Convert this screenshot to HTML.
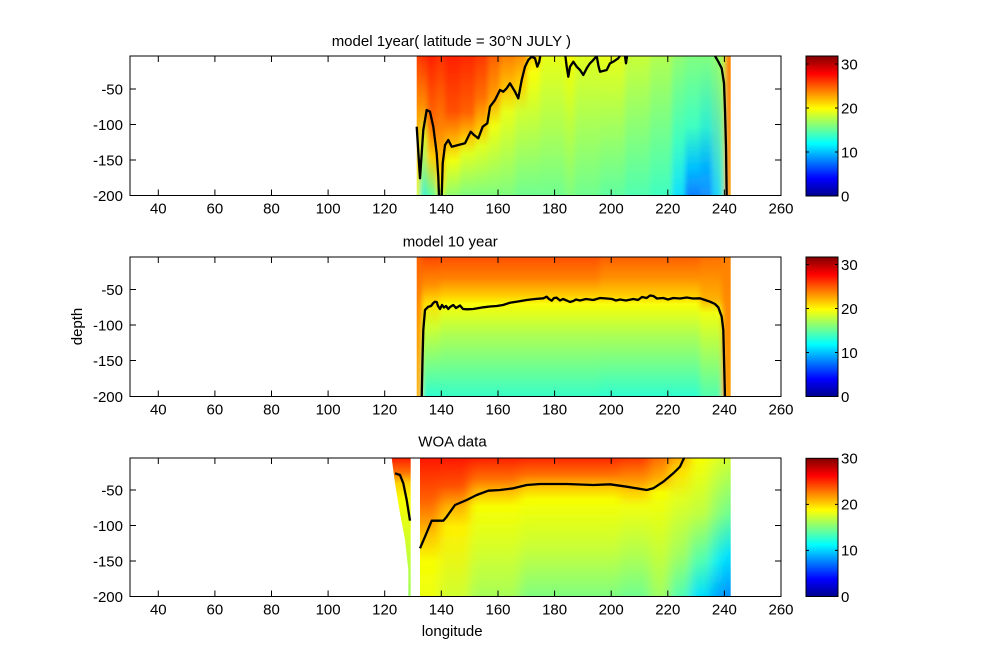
<!DOCTYPE html>
<html><head><meta charset="utf-8"><style>
html,body{margin:0;padding:0;background:#fff;}
svg{display:block;}
text{font-family:"Liberation Sans",Arial,sans-serif;font-size:15px;fill:#000;}
</style></head><body>
<svg width="1001" height="670" viewBox="0 0 1001 670" xmlns="http://www.w3.org/2000/svg">
<defs>
<filter id="bx" x="-0.1" y="-0.1" width="1.2" height="1.2"><feGaussianBlur stdDeviation="2.5 0"/></filter>
<filter id="bx2" x="-0.1" y="-0.1" width="1.2" height="1.2"><feGaussianBlur stdDeviation="5 0"/></filter>
<clipPath id="c1"><rect x="416.7" y="56" width="314" height="139.5"/></clipPath>
<clipPath id="c2"><rect x="416.7" y="257" width="314" height="139.5"/></clipPath>
<clipPath id="c3"><rect x="420" y="458" width="310.7" height="138.5"/></clipPath>
<clipPath id="a1c"><rect x="130" y="56" width="651" height="139.5"/></clipPath>
<clipPath id="a2c"><rect x="130" y="257" width="651" height="139.5"/></clipPath>
<clipPath id="a3c"><rect x="130" y="458" width="651" height="138.5"/></clipPath>
<linearGradient id="jet" x1="0" y1="1" x2="0" y2="0">
<stop offset="0" stop-color="#00008F"/><stop offset="0.125" stop-color="#0000FF"/><stop offset="0.375" stop-color="#00FFFF"/><stop offset="0.625" stop-color="#FFFF00"/><stop offset="0.875" stop-color="#FF0000"/><stop offset="1" stop-color="#800000"/>
</linearGradient>
<linearGradient id="t1" x1="0" y1="0" x2="0" y2="1"><stop offset="0" stop-color="#FF4000"/><stop offset=".4" stop-color="#FF9800"/><stop offset=".8" stop-color="#FFE000"/><stop offset="1" stop-color="#E0FF20"/></linearGradient>
<linearGradient id="t2" x1="0" y1="0" x2="0" y2="1"><stop offset="0" stop-color="#FF3000"/><stop offset=".35" stop-color="#FF9000"/><stop offset=".6" stop-color="#D0FF30"/><stop offset="1" stop-color="#40F0D0"/></linearGradient>
<linearGradient id="t3" x1="0" y1="0" x2="0" y2="1"><stop offset="0" stop-color="#FF2000"/><stop offset=".5" stop-color="#FF7000"/><stop offset=".72" stop-color="#FFD000"/><stop offset="1" stop-color="#60FFA0"/></linearGradient>
<linearGradient id="t4" x1="0" y1="0" x2="0" y2="1"><stop offset="0" stop-color="#FF3000"/><stop offset=".5" stop-color="#FF8000"/><stop offset=".9" stop-color="#FFE000"/><stop offset="1" stop-color="#C0FF40"/></linearGradient>
<linearGradient id="t5" x1="0" y1="0" x2="0" y2="1"><stop offset="0" stop-color="#FF2000"/><stop offset=".4" stop-color="#FF5000"/><stop offset=".63" stop-color="#FFC000"/><stop offset=".75" stop-color="#F0FF10"/><stop offset="1" stop-color="#90FF70"/></linearGradient>
<linearGradient id="t6" x1="0" y1="0" x2="0" y2="1"><stop offset="0" stop-color="#FF2800"/><stop offset=".4" stop-color="#FF6000"/><stop offset=".57" stop-color="#FFC000"/><stop offset=".7" stop-color="#E0FF20"/><stop offset="1" stop-color="#80FF80"/></linearGradient>
<linearGradient id="t7" x1="0" y1="0" x2="0" y2="1"><stop offset="0" stop-color="#FF3800"/><stop offset=".3" stop-color="#FF7000"/><stop offset=".5" stop-color="#FFC000"/><stop offset=".65" stop-color="#E0FF20"/><stop offset="1" stop-color="#80FF80"/></linearGradient>
<linearGradient id="t8" x1="0" y1="0" x2="0" y2="1"><stop offset="0" stop-color="#FF6000"/><stop offset=".3" stop-color="#FFA000"/><stop offset=".5" stop-color="#F0FF10"/><stop offset="1" stop-color="#80FF80"/></linearGradient>
<linearGradient id="t9" x1="0" y1="0" x2="0" y2="1"><stop offset="0" stop-color="#FF8000"/><stop offset=".22" stop-color="#FFC000"/><stop offset=".4" stop-color="#E8FF18"/><stop offset="1" stop-color="#80FF80"/></linearGradient>
<linearGradient id="t10" x1="0" y1="0" x2="0" y2="1"><stop offset="0" stop-color="#FF9000"/><stop offset=".2" stop-color="#FFD000"/><stop offset=".4" stop-color="#D0FF30"/><stop offset="1" stop-color="#70FF90"/></linearGradient>
<linearGradient id="t11" x1="0" y1="0" x2="0" y2="1"><stop offset="0" stop-color="#FFD000"/><stop offset=".12" stop-color="#F8FF08"/><stop offset="1" stop-color="#70FF90"/></linearGradient>
<linearGradient id="t12" x1="0" y1="0" x2="0" y2="1"><stop offset="0" stop-color="#E8FF18"/><stop offset=".5" stop-color="#B0FF50"/><stop offset="1" stop-color="#70FF90"/></linearGradient>
<linearGradient id="t13" x1="0" y1="0" x2="0" y2="1"><stop offset="0" stop-color="#F8FF00"/><stop offset="1" stop-color="#80FF80"/></linearGradient>
<linearGradient id="t14" x1="0" y1="0" x2="0" y2="1"><stop offset="0" stop-color="#E0FF20"/><stop offset="1" stop-color="#70FF90"/></linearGradient>
<linearGradient id="t15" x1="0" y1="0" x2="0" y2="1"><stop offset="0" stop-color="#E8FF18"/><stop offset="1" stop-color="#60FFA0"/></linearGradient>
<linearGradient id="t16" x1="0" y1="0" x2="0" y2="1"><stop offset="0" stop-color="#C8FF38"/><stop offset="1" stop-color="#50FFB0"/></linearGradient>
<linearGradient id="t17" x1="0" y1="0" x2="0" y2="1"><stop offset="0" stop-color="#B0FF50"/><stop offset="1" stop-color="#40FFC0"/></linearGradient>
<linearGradient id="t18" x1="0" y1="0" x2="0" y2="1"><stop offset="0" stop-color="#90FF70"/><stop offset=".6" stop-color="#40FFC0"/><stop offset="1" stop-color="#10E0FF"/></linearGradient>
<linearGradient id="t19" x1="0" y1="0" x2="0" y2="1"><stop offset="0" stop-color="#80FF80"/><stop offset=".5" stop-color="#40FFC0"/><stop offset=".8" stop-color="#00C0FF"/><stop offset="1" stop-color="#1080FF"/></linearGradient>
<linearGradient id="t20" x1="0" y1="0" x2="0" y2="1"><stop offset="0" stop-color="#80FF80"/><stop offset=".5" stop-color="#30F0D0"/><stop offset=".8" stop-color="#00B0FF"/><stop offset="1" stop-color="#1890FF"/></linearGradient>
<linearGradient id="t21" x1="0" y1="0" x2="0" y2="1"><stop offset="0" stop-color="#90FF70"/><stop offset="1" stop-color="#20D0FF"/></linearGradient>
<linearGradient id="t22" x1="0" y1="0" x2="0" y2="1"><stop offset="0" stop-color="#B0FF50"/><stop offset="1" stop-color="#40F0D0"/></linearGradient>
<linearGradient id="t23" x1="0" y1="0" x2="0" y2="1"><stop offset="0" stop-color="#FF8000"/><stop offset="1" stop-color="#FFA000"/></linearGradient>
<linearGradient id="m1" x1="0" y1="0" x2="0" y2="1"><stop offset="0" stop-color="#FF6000"/><stop offset=".5" stop-color="#FF9800"/><stop offset="1" stop-color="#FFB800"/></linearGradient>
<linearGradient id="m2" x1="0" y1="0" x2="0" y2="1"><stop offset="0" stop-color="#FF4800"/><stop offset=".2" stop-color="#FF9000"/><stop offset=".33" stop-color="#FFE000"/><stop offset=".5" stop-color="#D0FF30"/><stop offset="1" stop-color="#30FFD0"/></linearGradient>
<linearGradient id="m3" x1="0" y1="0" x2="0" y2="1"><stop offset="0" stop-color="#FF5000"/><stop offset=".15" stop-color="#FF8000"/><stop offset=".28" stop-color="#FFD000"/><stop offset=".34" stop-color="#F8FF08"/><stop offset=".55" stop-color="#B0FF50"/><stop offset="1" stop-color="#38FFC8"/></linearGradient>
<linearGradient id="m4" x1="0" y1="0" x2="0" y2="1"><stop offset="0" stop-color="#FF6000"/><stop offset=".15" stop-color="#FF9000"/><stop offset=".28" stop-color="#FFD000"/><stop offset=".34" stop-color="#F8FF08"/><stop offset=".55" stop-color="#B0FF50"/><stop offset="1" stop-color="#30FFD0"/></linearGradient>
<linearGradient id="m5" x1="0" y1="0" x2="0" y2="1"><stop offset="0" stop-color="#FF7000"/><stop offset=".3" stop-color="#FFB000"/><stop offset=".4" stop-color="#F0FF10"/><stop offset="1" stop-color="#50FFB0"/></linearGradient>
<linearGradient id="m6" x1="0" y1="0" x2="0" y2="1"><stop offset="0" stop-color="#FF8000"/><stop offset="1" stop-color="#FFA000"/></linearGradient>
<linearGradient id="b1" x1="0" y1="0" x2="0" y2="1"><stop offset="0" stop-color="#FF1800"/><stop offset=".3" stop-color="#FF6000"/><stop offset=".55" stop-color="#FFC000"/><stop offset=".75" stop-color="#F8FF00"/><stop offset="1" stop-color="#EEFF12"/></linearGradient>
<linearGradient id="b2" x1="0" y1="0" x2="0" y2="1"><stop offset="0" stop-color="#FF1800"/><stop offset=".2" stop-color="#FF5000"/><stop offset=".35" stop-color="#FFB000"/><stop offset=".5" stop-color="#FFF000"/><stop offset="1" stop-color="#D0FF30"/></linearGradient>
<linearGradient id="b3" x1="0" y1="0" x2="0" y2="1"><stop offset="0" stop-color="#FF2000"/><stop offset=".15" stop-color="#FF7000"/><stop offset=".25" stop-color="#FFC000"/><stop offset=".35" stop-color="#F8FF00"/><stop offset=".7" stop-color="#D0FF30"/><stop offset="1" stop-color="#A8FF58"/></linearGradient>
<linearGradient id="b4" x1="0" y1="0" x2="0" y2="1"><stop offset="0" stop-color="#FF2800"/><stop offset=".12" stop-color="#FF7000"/><stop offset=".2" stop-color="#FFC000"/><stop offset=".3" stop-color="#F8FF00"/><stop offset=".65" stop-color="#C8FF38"/><stop offset="1" stop-color="#80FF80"/></linearGradient>
<linearGradient id="b5" x1="0" y1="0" x2="0" y2="1"><stop offset="0" stop-color="#FF3800"/><stop offset=".15" stop-color="#FF9000"/><stop offset=".25" stop-color="#FFD000"/><stop offset=".35" stop-color="#F0FF10"/><stop offset=".7" stop-color="#B0FF50"/><stop offset="1" stop-color="#70FF90"/></linearGradient>
<linearGradient id="b6" x1="0" y1="0" x2="0" y2="1"><stop offset="0" stop-color="#FF7000"/><stop offset=".15" stop-color="#FFB000"/><stop offset=".25" stop-color="#F8FF00"/><stop offset="1" stop-color="#A0FF60"/></linearGradient>
<linearGradient id="b7" x1="0" y1="0" x2="0" y2="1"><stop offset="0" stop-color="#FFB000"/><stop offset=".1" stop-color="#FFE000"/><stop offset=".3" stop-color="#E0FF20"/><stop offset=".7" stop-color="#A0FF60"/><stop offset="1" stop-color="#50FFB0"/></linearGradient>
<linearGradient id="b8" x1="0" y1="0" x2="0" y2="1"><stop offset="0" stop-color="#F8FF00"/><stop offset=".4" stop-color="#C0FF40"/><stop offset=".75" stop-color="#50FFB0"/><stop offset="1" stop-color="#00E0FF"/></linearGradient>
<linearGradient id="b9" x1="0" y1="0" x2="0" y2="1"><stop offset="0" stop-color="#E0FF20"/><stop offset=".4" stop-color="#90FF70"/><stop offset=".75" stop-color="#10F0F0"/><stop offset="1" stop-color="#00A8FF"/></linearGradient>
<linearGradient id="b10" x1="0" y1="0" x2="0" y2="1"><stop offset="0" stop-color="#D0FF30"/><stop offset=".4" stop-color="#70FF90"/><stop offset=".7" stop-color="#00E0FF"/><stop offset="1" stop-color="#0090FF"/></linearGradient>
<linearGradient id="bw" x1="0" y1="0" x2="0" y2="1"><stop offset="0" stop-color="#FF2000"/><stop offset=".1" stop-color="#FF7000"/><stop offset=".18" stop-color="#FFD000"/><stop offset=".3" stop-color="#F8FF00"/><stop offset="1" stop-color="#A0FF60"/></linearGradient>
</defs>

<rect x="0" y="0" width="1001" height="670" fill="#fff"/>

<!-- TOP PLOT -->
<g clip-path="url(#c1)"><g filter="url(#bx)">
<rect x="400" y="56" width="20" height="139.5" fill="url(#t1)"/>
<rect x="420" y="56" width="7" height="139.5" fill="url(#t2)"/>
<rect x="427" y="56" width="9" height="139.5" fill="url(#t3)"/>
<rect x="436" y="56" width="9" height="139.5" fill="url(#t4)"/>
<rect x="445" y="56" width="15" height="139.5" fill="url(#t5)"/>
<rect x="460" y="56" width="15" height="139.5" fill="url(#t6)"/>
<rect x="475" y="56" width="13" height="139.5" fill="url(#t7)"/>
<rect x="488" y="56" width="12" height="139.5" fill="url(#t8)"/>
<rect x="500" y="56" width="15" height="139.5" fill="url(#t9)"/>
<rect x="515" y="56" width="12" height="139.5" fill="url(#t10)"/>
<rect x="527" y="56" width="13" height="139.5" fill="url(#t11)"/>
<rect x="540" y="56" width="25" height="139.5" fill="url(#t12)"/>
<rect x="565" y="56" width="10" height="139.5" fill="url(#t13)"/>
<rect x="575" y="56" width="25" height="139.5" fill="url(#t14)"/>
<rect x="600" y="56" width="25" height="139.5" fill="url(#t15)"/>
<rect x="625" y="56" width="25" height="139.5" fill="url(#t16)"/>
<rect x="650" y="56" width="22" height="139.5" fill="url(#t17)"/>
<rect x="672" y="56" width="13" height="139.5" fill="url(#t18)"/>
<rect x="685" y="56" width="15" height="139.5" fill="url(#t19)"/>
<rect x="700" y="56" width="12" height="139.5" fill="url(#t20)"/>
<rect x="712" y="56" width="8" height="139.5" fill="url(#t21)"/>
<rect x="720" y="56" width="5" height="139.5" fill="url(#t22)"/>
<rect x="725" y="56" width="25" height="139.5" fill="url(#t23)"/>
</g></g>
<g clip-path="url(#a1c)" fill="none" stroke="#000" stroke-width="2.3" stroke-linejoin="round">
<polyline points="416.7,126.7 420,178.3 423.3,130 426.7,110 430,111.7 433.3,126.7 436.7,153.3 438.3,176.7 439,197 441.7,197 442.7,163.3 445,145 448.3,140 451.7,146.7 458.3,145 465,143.3 470.7,131.7 474,135 478.3,138.3 482.7,126.7 487.3,123.3 490,106.7 495,100 500,90 503.3,91.7 506.7,88.3 510,83.3 515,91.7 518.3,98.3 521.7,80 525,66.7 528.3,60 531.7,56.7 535,58.3 537.3,66.7 539.3,61.7 540.7,53"/>
<polyline points="565,53 566.7,66.7 568.3,76.7 570,66.7 573.3,61.7 576.7,66.7 580,70 583.3,75 586.7,68.3 590,63.3 593.3,60 596.7,56 598.5,66 600,71.7 606.7,70 610,63.3 613.3,61.7 618.3,58.3 621.7,53"/>
<polyline points="624.5,53 626,63.3 627.5,53"/>
<polyline points="713.3,53 718.3,61.7 721.7,68.3 724,83.3 725,110 726,146.7 726.7,197"/>
</g>
<rect x="130" y="56" width="651" height="139.5" fill="none" stroke="#000" stroke-width="1"/>

<!-- MIDDLE PLOT -->
<g clip-path="url(#c2)"><g filter="url(#bx)">
<rect x="400" y="257" width="22" height="139.5" fill="url(#m1)"/>
<rect x="422" y="257" width="18" height="139.5" fill="url(#m2)"/>
<rect x="440" y="257" width="160" height="139.5" fill="url(#m3)"/>
<rect x="600" y="257" width="100" height="139.5" fill="url(#m4)"/>
<rect x="700" y="257" width="22" height="139.5" fill="url(#m5)"/>
<rect x="722" y="257" width="25" height="139.5" fill="url(#m6)"/>
</g></g>
<g clip-path="url(#a2c)" fill="none" stroke="#000" stroke-width="2.3" stroke-linejoin="round">
<polyline points="421.7,398 422.5,360 423.3,330 425,310 428.3,306.7 431,306 433.3,303 435,301.7 436.7,302 438,306 440,309 442,305 444,307.5 446,306 448.3,309 450,307 453.3,305 456,308 460,305.5 463,309 467,309.3 473.3,309 483.3,307.3 490,306.5 496.7,306 503,305 510,302.7 518,301.5 526.7,300 535,299 543.3,298.3 546.7,296.7 549,299 551.7,300.7 554,298 556.7,297.7 560,300.5 563,299 566.7,300.5 570,302 573.3,301 576,299.5 580,300.5 586,299 593.3,300 600,298 606.7,298.5 612,299 616,300.5 620,299.5 626,300.5 633.3,299 638,300 642,297 646.7,298 650,295.5 653.3,296 657,298.5 663.3,298 668,299.5 673.3,298 680,298.5 686.7,297.5 693,298.5 700,298.3 705,300 710,301.7 715,304 718.3,307.3 721.7,316.7 723.3,330 725,398"/>
</g>
<rect x="130" y="257" width="651" height="139.5" fill="none" stroke="#000" stroke-width="1"/>

<!-- BOTTOM PLOT -->
<g clip-path="url(#c3)"><g filter="url(#bx2)">
<rect x="400" y="458" width="40" height="138.5" fill="url(#b1)"/>
<rect x="440" y="458" width="30" height="138.5" fill="url(#b2)"/>
<rect x="470" y="458" width="50" height="138.5" fill="url(#b3)"/>
<rect x="520" y="458" width="100" height="138.5" fill="url(#b4)"/>
<rect x="620" y="458" width="30" height="138.5" fill="url(#b5)"/>
<rect x="650" y="458" width="20" height="138.5" fill="url(#b6)"/>
<rect x="670" y="458" width="20" height="138.5" fill="url(#b7)"/>
<rect x="690" y="458" width="20" height="138.5" fill="url(#b8)"/>
<rect x="710" y="458" width="12" height="138.5" fill="url(#b9)"/>
<rect x="722" y="458" width="30" height="138.5" fill="url(#b10)"/>
</g></g>
<polygon points="391.7,458.3 410.7,458.3 410.7,596.5 408.3,596.5 408.3,570 405,540 400,513.3 395,483.3" fill="url(#bw)"/>
<g clip-path="url(#a3c)" fill="none" stroke="#000" stroke-width="2.3" stroke-linejoin="round">
<polyline points="395,473.3 400,475 403.3,483.3 406.7,500 410,520.7"/>
<polyline points="420,548.3 425,536.7 431.7,520.7 443.3,520.7 446.7,516.7 455,505 466.7,500 476.7,495 488.3,490.7 500,490 513.3,488.3 526.7,485 540,484 566.7,484 593.3,485 610,484.3 626.7,486.7 646.7,490 653.3,488.3 663.3,481.7 673.3,473.3 680,466.7 685,456"/>
</g>
<rect x="130" y="458" width="651" height="138.5" fill="none" stroke="#000" stroke-width="1"/>

<!-- ticks -->
<g stroke="#000" stroke-width="1" fill="none">
<path d="M158.3,195.5v-6M214.9,195.5v-6M271.5,195.5v-6M328.1,195.5v-6M384.7,195.5v-6M441.3,195.5v-6M498,195.5v-6M554.6,195.5v-6M611.2,195.5v-6M667.8,195.5v-6M724.4,195.5v-6
M158.3,56v6M214.9,56v6M271.5,56v6M328.1,56v6M384.7,56v6M441.3,56v6M498,56v6M554.6,56v6M611.2,56v6M667.8,56v6M724.4,56v6
M130,89h6M130,124.5h6M130,160h6M775,89h6M775,124.5h6M775,160h6"/>
<path d="M158.3,396.5v-6M214.9,396.5v-6M271.5,396.5v-6M328.1,396.5v-6M384.7,396.5v-6M441.3,396.5v-6M498,396.5v-6M554.6,396.5v-6M611.2,396.5v-6M667.8,396.5v-6M724.4,396.5v-6
M158.3,257v6M214.9,257v6M271.5,257v6M328.1,257v6M384.7,257v6M441.3,257v6M498,257v6M554.6,257v6M611.2,257v6M667.8,257v6M724.4,257v6
M130,289.5h6M130,325h6M130,360.5h6M775,289.5h6M775,325h6M775,360.5h6"/>
<path d="M158.3,596.5v-6M214.9,596.5v-6M271.5,596.5v-6M328.1,596.5v-6M384.7,596.5v-6M441.3,596.5v-6M498,596.5v-6M554.6,596.5v-6M611.2,596.5v-6M667.8,596.5v-6M724.4,596.5v-6
M158.3,458v6M214.9,458v6M271.5,458v6M328.1,458v6M384.7,458v6M441.3,458v6M498,458v6M554.6,458v6M611.2,458v6M667.8,458v6M724.4,458v6
M130,490h6M130,525.5h6M130,561h6M775,490h6M775,525.5h6M775,561h6"/>
</g>

<!-- colorbars -->
<rect x="806" y="56" width="32" height="140" fill="url(#jet)" stroke="#000" stroke-width="1"/>
<rect x="806" y="257" width="32" height="139.5" fill="url(#jet)" stroke="#000" stroke-width="1"/>
<rect x="806" y="458.3" width="32" height="138.2" fill="url(#jet)" stroke="#000" stroke-width="1"/>
<g stroke="#000" stroke-width="1">
<path d="M838,152h-3M838,108h-3M838,64h-3M806,152h3M806,108h3M806,64h3"/>
<path d="M838,352.5h-3M838,308.5h-3M838,264.5h-3M806,352.5h3M806,308.5h3M806,264.5h3"/>
<path d="M838,550.4h-3M838,504.4h-3M806,550.4h3M806,504.4h3"/>
</g>
<g>
<text x="841" y="201.3">0</text><text x="841" y="157.3">10</text><text x="841" y="113.3">20</text><text x="841" y="69.3">30</text>
<text x="841" y="401.8">0</text><text x="841" y="357.8">10</text><text x="841" y="313.8">20</text><text x="841" y="269.8">30</text>
<text x="841" y="601.8">0</text><text x="841" y="555.7">10</text><text x="841" y="509.7">20</text><text x="841" y="463.6">30</text>
</g>

<!-- y tick labels -->
<g text-anchor="end">
<text x="123" y="94.3">-50</text><text x="123" y="129.8">-100</text><text x="123" y="165.3">-150</text><text x="123" y="200.8">-200</text>
<text x="123" y="294.8">-50</text><text x="123" y="330.3">-100</text><text x="123" y="365.8">-150</text><text x="123" y="401.8">-200</text>
<text x="123" y="495.3">-50</text><text x="123" y="530.8">-100</text><text x="123" y="566.3">-150</text><text x="123" y="601.8">-200</text>
</g>

<!-- x tick labels -->
<g text-anchor="middle">
<text x="158.3" y="213.5">40</text><text x="214.9" y="213.5">60</text><text x="271.5" y="213.5">80</text><text x="328.1" y="213.5">100</text><text x="384.7" y="213.5">120</text><text x="441.3" y="213.5">140</text><text x="498" y="213.5">160</text><text x="554.6" y="213.5">180</text><text x="611.2" y="213.5">200</text><text x="667.8" y="213.5">220</text><text x="724.4" y="213.5">240</text><text x="781" y="213.5">260</text>
<text x="158.3" y="414.5">40</text><text x="214.9" y="414.5">60</text><text x="271.5" y="414.5">80</text><text x="328.1" y="414.5">100</text><text x="384.7" y="414.5">120</text><text x="441.3" y="414.5">140</text><text x="498" y="414.5">160</text><text x="554.6" y="414.5">180</text><text x="611.2" y="414.5">200</text><text x="667.8" y="414.5">220</text><text x="724.4" y="414.5">240</text><text x="781" y="414.5">260</text>
<text x="158.3" y="614.5">40</text><text x="214.9" y="614.5">60</text><text x="271.5" y="614.5">80</text><text x="328.1" y="614.5">100</text><text x="384.7" y="614.5">120</text><text x="441.3" y="614.5">140</text><text x="498" y="614.5">160</text><text x="554.6" y="614.5">180</text><text x="611.2" y="614.5">200</text><text x="667.8" y="614.5">220</text><text x="724.4" y="614.5">240</text><text x="781" y="614.5">260</text>
</g>

<!-- titles and labels -->
<text x="331.7" y="46">model 1year( latitude = 30°N JULY )</text>
<text x="402.7" y="246.5">model 10 year</text>
<text x="418.3" y="446.5">WOA data</text>
<text x="421.7" y="636">longitude</text>
<text x="0" y="0" transform="translate(82,326.5) rotate(-90)" text-anchor="middle">depth</text>
</svg>
</body></html>
